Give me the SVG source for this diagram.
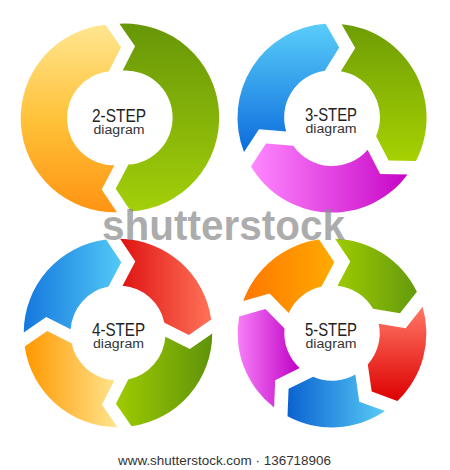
<svg xmlns="http://www.w3.org/2000/svg" width="450" height="470" viewBox="0 0 450 470">
<defs>
<linearGradient id="g1y" x1="0" y1="0" x2="0" y2="1"><stop offset="0" stop-color="#FFE690"/><stop offset="0.5" stop-color="#FFC23A"/><stop offset="1" stop-color="#FF9412"/></linearGradient>
<linearGradient id="g1g" x1="0" y1="0" x2="0" y2="1"><stop offset="0" stop-color="#679607"/><stop offset="1" stop-color="#A3CF0A"/></linearGradient>
<linearGradient id="g2b" x1="0" y1="0" x2="0" y2="1"><stop offset="0" stop-color="#5ACDF9"/><stop offset="1" stop-color="#0B6CDD"/></linearGradient>
<linearGradient id="g2g" x1="0" y1="0" x2="0" y2="1"><stop offset="0" stop-color="#6E9D05"/><stop offset="1" stop-color="#A6D102"/></linearGradient>
<linearGradient id="g2m" x1="0" y1="0" x2="1" y2="0"><stop offset="0" stop-color="#FF88FF"/><stop offset="1" stop-color="#C605C6"/></linearGradient>
<linearGradient id="g3b" x1="0" y1="0" x2="1" y2="0"><stop offset="0" stop-color="#1577DE"/><stop offset="1" stop-color="#52C9F6"/></linearGradient>
<linearGradient id="g3r" x1="0" y1="0" x2="1" y2="0"><stop offset="0" stop-color="#DE1212"/><stop offset="1" stop-color="#FF7358"/></linearGradient>
<linearGradient id="g3g" x1="0" y1="0" x2="1" y2="0"><stop offset="0" stop-color="#9FCB00"/><stop offset="1" stop-color="#5E930A"/></linearGradient>
<linearGradient id="g3o" x1="0" y1="0" x2="1" y2="0"><stop offset="0" stop-color="#FF9800"/><stop offset="1" stop-color="#FFE58F"/></linearGradient>
<linearGradient id="g4o" x1="0" y1="0" x2="1" y2="0"><stop offset="0" stop-color="#FF7700"/><stop offset="1" stop-color="#FFAA00"/></linearGradient>
<linearGradient id="g4g" x1="0" y1="0" x2="1" y2="0"><stop offset="0" stop-color="#9ECB00"/><stop offset="1" stop-color="#649A0E"/></linearGradient>
<linearGradient id="g4r" x1="0" y1="0" x2="0" y2="1"><stop offset="0" stop-color="#FF7866"/><stop offset="1" stop-color="#DD0000"/></linearGradient>
<linearGradient id="g4b" x1="0" y1="0" x2="1" y2="0"><stop offset="0" stop-color="#0A62D0"/><stop offset="1" stop-color="#58CBF6"/></linearGradient>
<linearGradient id="g4m" x1="0" y1="0" x2="1" y2="0"><stop offset="0" stop-color="#F77FF7"/><stop offset="1" stop-color="#BF00C6"/></linearGradient>
</defs>
<style>
.t1{font-family:"Liberation Sans",Arial,sans-serif;font-size:17.5px;fill:#222;text-anchor:middle}
.t2{font-family:"Liberation Sans",Arial,sans-serif;font-size:12.5px;fill:#333;text-anchor:middle}
.wm{font-family:"Liberation Sans",Arial,sans-serif;font-size:42px;font-weight:bold;fill:#8c8c8c;fill-opacity:0.72;text-anchor:middle}
.ft{font-family:"Liberation Sans",Arial,sans-serif;font-size:13.5px;fill:#333;text-anchor:middle}
</style>
<rect width="450" height="470" fill="#ffffff"/>

<!-- 2-STEP -->
<g id="step2-yellow"><path fill="url(#g1y)" d="M116.93,212.24 A94,94 0 0 1 105.46,24.72 L121.06,47.18 L108.74,71.60 A47,47 0 0 0 114.47,165.31 L101.72,189.50 Z"/></g>
<g id="step2-green"><path fill="url(#g1g)" d="M119.42,23.74 A94,94 0 0 1 130.91,211.50 L115.70,188.77 L128.45,164.57 A47,47 0 0 0 122.70,70.62 L135.03,46.20 Z"/></g>
<g id="label2"><text class="t1" x="119" y="121.5" textLength="54" lengthAdjust="spacingAndGlyphs">2-STEP</text><text class="t2" x="119" y="133.5" textLength="51" lengthAdjust="spacingAndGlyphs">diagram</text></g>

<!-- 3-STEP -->
<g id="step3-blue"><path fill="url(#g2b)" d="M244.00,152.02 A94,94 0 0 1 325.64,23.87 L339.23,47.61 L324.82,70.87 A47,47 0 0 0 286.25,131.41 L259.00,129.13 Z"/></g>
<g id="step3-green"><path fill="url(#g2g)" d="M341.64,24.15 A94,94 0 0 1 415.96,161.03 L388.61,160.45 L376.10,136.13 A47,47 0 0 0 340.82,71.15 L355.23,47.89 Z"/></g>
<g id="step3-magenta"><path fill="url(#g2m)" d="M407.48,174.59 A94,94 0 0 1 251.02,166.40 L266.01,143.51 L293.27,145.79 A47,47 0 0 0 367.62,149.69 L380.13,174.02 Z"/></g>
<g id="label3"><text class="t1" x="331" y="120.5" textLength="52" lengthAdjust="spacingAndGlyphs">3-STEP</text><text class="t2" x="331" y="132.5" textLength="51" lengthAdjust="spacingAndGlyphs">diagram</text></g>

<!-- 4-STEP -->
<g id="step4-blue"><path fill="url(#g3b)" d="M23.74,332.58 A94,94 0 0 1 106.09,239.50 L121.30,262.23 L108.55,286.43 A47,47 0 0 0 70.62,329.30 L46.21,316.97 Z"/></g>
<g id="step4-red"><path fill="url(#g3r)" d="M120.07,238.76 A94,94 0 0 1 211.28,319.46 L188.82,335.06 L164.40,322.74 A47,47 0 0 0 122.53,285.69 L135.28,261.50 Z"/></g>
<g id="step4-green"><path fill="url(#g3g)" d="M212.26,333.42 A94,94 0 0 1 131.54,426.28 L115.94,403.82 L128.26,379.40 A47,47 0 0 0 165.38,336.70 L189.79,349.03 Z"/></g>
<g id="step4-orange"><path fill="url(#g3o)" d="M117.58,427.26 A94,94 0 0 1 24.72,346.54 L47.18,330.94 L71.60,343.26 A47,47 0 0 0 114.30,380.38 L101.97,404.79 Z"/></g>
<g id="label4"><text class="t1" x="118.5" y="335.5" textLength="53" lengthAdjust="spacingAndGlyphs">4-STEP</text><text class="t2" x="118.5" y="347.5" textLength="51" lengthAdjust="spacingAndGlyphs">diagram</text></g>

<!-- 5-STEP -->
<g id="step5-orange"><path fill="url(#g4o)" d="M243.27,300.94 A94,94 0 0 1 319.09,239.55 L334.30,262.29 L321.55,286.48 A47,47 0 0 0 288.67,313.11 L269.59,293.50 Z"/></g>
<g id="step5-green"><path fill="url(#g4g)" d="M335.07,238.71 A94,94 0 0 1 416.89,291.84 L399.97,313.34 L373.01,308.69 A47,47 0 0 0 337.53,285.64 L350.28,261.45 Z"/></g>
<g id="step5-red"><path fill="url(#g4r)" d="M422.63,306.78 A94,94 0 0 1 397.38,401.02 L371.71,391.57 L367.80,364.50 A47,47 0 0 0 378.75,323.63 L405.70,328.28 Z"/></g>
<g id="step5-blue"><path fill="url(#g4b)" d="M384.94,411.08 A94,94 0 0 1 287.51,416.20 L288.57,388.86 L313.11,376.78 A47,47 0 0 0 355.36,374.56 L359.27,401.64 Z"/></g>
<g id="step5-magenta"><path fill="url(#g4m)" d="M274.09,407.48 A94,94 0 0 1 239.13,316.40 L265.45,308.95 L284.53,328.57 A47,47 0 0 0 299.69,368.06 L275.15,380.15 Z"/></g>
<g id="label5"><text class="t1" x="331" y="335.5" textLength="52" lengthAdjust="spacingAndGlyphs">5-STEP</text><text class="t2" x="331" y="347.5" textLength="51" lengthAdjust="spacingAndGlyphs">diagram</text></g>

<g id="watermark"><text class="wm" x="223.5" y="240" textLength="243" lengthAdjust="spacingAndGlyphs">shutterstock</text></g>
<g id="footer"><text class="ft" x="224.5" y="465" textLength="213" lengthAdjust="spacingAndGlyphs">www.shutterstock.com · 136718906</text></g>
</svg>
